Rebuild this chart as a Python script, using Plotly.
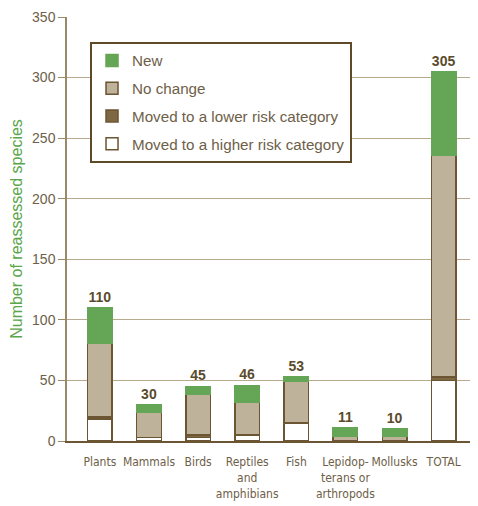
import plotly.graph_objects as go

categories = ["Plants", "Mammals", "Birds", "Reptiles<br>and<br>amphibians", "Fish",
              "Lepidop-<br>terans or<br>arthropods", "Mollusks", "TOTAL"]
higher = [18, 3, 3, 5, 15, 0, 0, 50]
lower = [2, 0, 2, 0, 0, 0, 0, 3]
no_change = [61, 21, 34, 27, 34, 4, 4, 183]
new = [29, 6, 6, 14, 4, 7, 6, 69]
totals = [110, 30, 45, 46, 53, 11, 10, 305]

GREEN = "#65a656"
TAN = "#bfb29b"
DARK = "#7d6843"
OUTLINE = "#6b5532"
TXT = "#6e6048"
GRID = "#b8aa8c"

fig = go.Figure()
series = [
    ("Moved to a higher risk category", higher, "white", OUTLINE, 4),
    ("Moved to a lower risk category", lower, DARK, OUTLINE, 3),
    ("No change", no_change, TAN, OUTLINE, 2),
    ("New", new, GREEN, GREEN, 1),
]
for i, (name, vals, col, lc, rank) in enumerate(series):
    kw = {}
    if name == "New":
        kw = dict(text=[str(t) for t in totals], textposition="outside",
                  textfont=dict(family="Liberation Sans, Arial", size=14, color="#5b4b2c", weight="bold"),
                  cliponaxis=False)
    fig.add_trace(go.Bar(x=categories, y=vals, name=name, legendrank=rank, legendgroup=str(i),
                         marker=dict(color=col, line=dict(color=lc, width=1.5)),
                         width=0.5, **kw))

fig.update_layout(
    width=478, height=506,
    barmode="stack",
    plot_bgcolor="white", paper_bgcolor="white",
    margin=dict(l=59, r=8, t=9, b=73),
    font=dict(family="Liberation Sans, Arial", size=14, color=TXT),
    showlegend=True,
    uniformtext=dict(mode=False),
    legend=dict(x=0.056, y=0.941, xanchor="left", yanchor="top",
                bordercolor="#5e4a28", borderwidth=2, bgcolor="white",
                traceorder="grouped", tracegroupgap=5,
                font=dict(size=15.2, color=TXT)),
    xaxis=dict(range=[-0.67, 7.7], showline=True, linecolor=OUTLINE, linewidth=2,
               ticks="", tickangle=0, automargin=False, ticklabelstandoff=9,
               tickfont=dict(family="DejaVu Sans Condensed, Liberation Sans", size=12, color=TXT)),
    yaxis=dict(range=[0, 350], dtick=50, showgrid=True, gridcolor=GRID, gridwidth=1,
               showline=True, linecolor="#9a8966", linewidth=1.5, automargin=False,
               ticks="outside", ticklen=7, tickcolor="#9a8966",
               tickfont=dict(size=14, color=TXT),
               title=dict(text="Number of reassessed species", standoff=18,
                          font=dict(size=16, color="#5aa64a")),
               zeroline=False),
)

fig.write_html("out.html")
